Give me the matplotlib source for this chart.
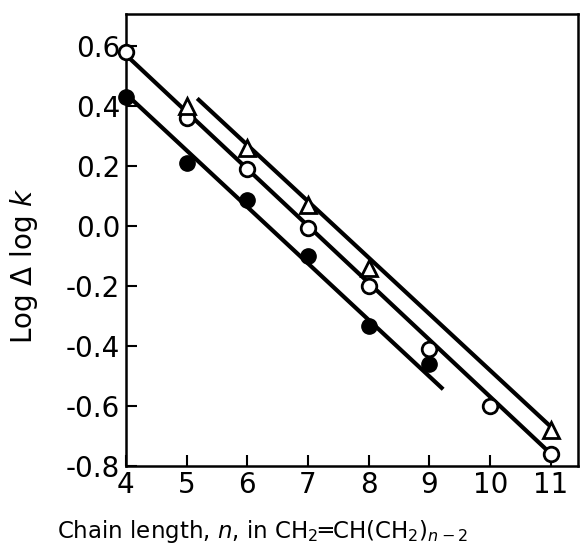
import matplotlib
matplotlib.use("Agg")
import matplotlib.pyplot as plt

# Data
n_filled = [4, 5, 6, 7, 8, 9]
y_filled = [0.43, 0.21, 0.085, -0.10, -0.335, -0.46]

n_open = [4, 5, 6, 7, 8, 9, 10, 11]
y_open = [0.58, 0.36, 0.19, -0.007, -0.20, -0.41, -0.60, -0.76]

n_tri = [5, 6, 7, 8, 11]
y_tri = [0.40, 0.26, 0.07, -0.14, -0.68]

# Fitted straight lines (end points)
line_filled_x = [4.0, 9.2]
line_filled_y = [0.44, -0.54]
line_open_x = [4.0, 11.0]
line_open_y = [0.57, -0.76]
line_tri_x = [5.2, 11.0]
line_tri_y = [0.42, -0.67]

x_ticks = [4, 5, 6, 7, 8, 9, 10, 11]
y_ticks = [0.6, 0.4, 0.2, 0.0, -0.2, -0.4, -0.6, -0.8]
y_tick_labels = ["0.6", "0.4", "0.2", "0.0", "-0.2", "-0.4", "-0.6", "-0.8"]

fig = plt.figure(figsize=(5.8, 5.5), dpi=100)
ax = fig.add_axes([0.217, 0.153, 0.78, 0.822])

lw = 3.0
ax.plot(line_filled_x, line_filled_y, color='black', linewidth=lw, zorder=2)
ax.plot(line_open_x, line_open_y, color='black', linewidth=lw, zorder=2)
ax.plot(line_tri_x, line_tri_y, color='black', linewidth=lw, zorder=2)

ax.plot(n_filled, y_filled, 'o', color='black', markersize=11, zorder=3, clip_on=False)
ax.plot(n_open, y_open, 'o', markerfacecolor='white', markeredgecolor='black',
        markeredgewidth=2.0, markersize=10.5, zorder=4, clip_on=False)
ax.plot(n_tri, y_tri, '^', markerfacecolor='white', markeredgecolor='black',
        markeredgewidth=2.0, markersize=11, zorder=4, clip_on=False)

ax.set_xlim(4, 11.45)
ax.set_ylim(-0.8, 0.707)
ax.set_xticks(x_ticks)
ax.set_yticks(y_ticks)
ax.set_yticklabels(y_tick_labels)
ax.tick_params(direction='in', length=8, width=1.5, labelsize=20, pad=4)
for s in ax.spines.values():
    s.set_linewidth(1.8)

ax.set_ylabel(r"Log $\Delta$ log $k$", fontsize=20)
ax.yaxis.set_label_coords(-0.19, 0.442)
ax.set_xlabel(r"Chain length, $n$, in CH$_2$═CH(CH$_2$)$_{n-2}$", fontsize=16.5)
ax.xaxis.set_label_coords(0.303, -0.115)

fig.savefig("out.png", dpi=100)
